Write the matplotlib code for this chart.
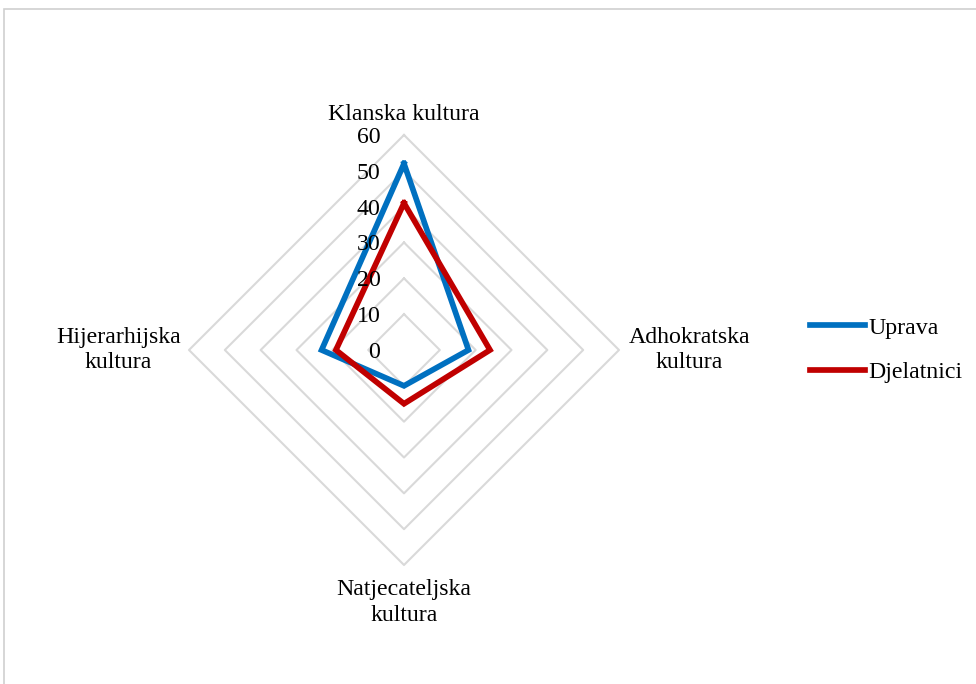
import numpy as np
import matplotlib
matplotlib.use("Agg")
import matplotlib.pyplot as plt
from matplotlib.patches import Rectangle

categories = ["Klanska kultura", "Adhokratska\nkultura", "Natjecateljska\nkultura", "Hijerarhijska\nkultura"]
uprava = [52, 18, 10, 23]
djelatnici = [41, 24, 15, 19]
ticks = [0, 10, 20, 30, 40, 50, 60]
series_names = ["Uprava", "Djelatnici"]
colors = ["#0070C0", "#C00000"]

plt.rcParams['font.family'] = ['Liberation Serif', 'DejaVu Serif']
FS = 17.2

W, H = 976, 684
fig = plt.figure(figsize=(W / 100, H / 100), dpi=100)
fig.patch.set_facecolor('white')

# outer border (Excel chart area)
fig.patches.append(Rectangle((4 / W, -0.1), 1.2, 1 - 9 / H + 0.1, transform=fig.transFigure,
                             fill=False, edgecolor='#d0d0d0', linewidth=1.2))

cx, cy, R = 404, 350, 215
ax = fig.add_axes([(cx - R) / W, (H - cy - R) / H, 2 * R / W, 2 * R / H], projection='polar')
ax.set_theta_offset(np.pi / 2)
ax.set_theta_direction(-1)
ax.set_ylim(0, 60)
ax.grid(False)
ax.spines['polar'].set_visible(False)
ax.set_xticks([])
ax.set_yticks([])
ax.patch.set_alpha(0)

n = len(categories)
theta = np.linspace(0, 2 * np.pi, n, endpoint=False)
theta_c = np.append(theta, theta[0])

for r in ticks[1:]:
    ax.plot(theta_c, [r] * (n + 1), color='#d9d9d9', linewidth=1.5, zorder=1, clip_on=False)

for vals, name, col in zip([uprava, djelatnici], series_names, colors):
    v = np.append(vals, vals[0])
    ax.plot(theta_c, v, color=col, linewidth=4.1, solid_joinstyle='miter', label=name,
            zorder=3, clip_on=False)

for t in ticks:
    ax.annotate(str(t), xy=(0, t), xytext=(-17, 0), textcoords='offset points',
                ha='right', va='center_baseline', fontsize=FS, color='#000000', zorder=4)

offsets = [((0, 11), 'center', 'baseline'),
           ((7, 0), 'left', 'center'),
           ((0, -10), 'center', 'top'),
           ((-6, 0), 'right', 'center')]
for th, lab, (off, ha, va) in zip(theta, categories, offsets):
    ax.annotate(lab, xy=(th, 60), xytext=off, textcoords='offset points',
                ha=ha, va=va, fontsize=FS, multialignment='center', color='#000000',
                linespacing=1.3)

handles, labels = ax.get_legend_handles_labels()
fig.legend(handles, labels, loc='center left', bbox_to_anchor=(810 / W, 1 - 350 / H),
           frameon=False, fontsize=FS, handlelength=2.3, handletextpad=0.15,
           labelspacing=0.95, borderpad=0, borderaxespad=0)

fig.savefig('out.png', dpi=100)
